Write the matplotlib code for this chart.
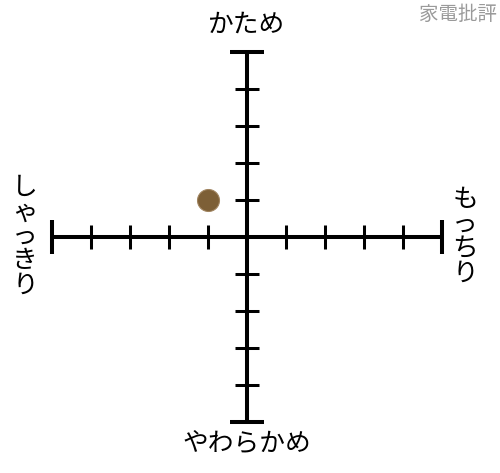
import matplotlib.pyplot as plt

plt.rcParams['font.family'] = ['Noto Sans CJK JP', 'DejaVu Sans']

# axis labels (top, bottom, left, right)
label_top = 'かため'
label_bottom = 'やわらかめ'
label_left = 'しゃっきり'
label_right = 'もっちり'
watermark = '家電批評'

# tick positions along each arm
ticks = [-5, -4, -3, -2, -1, 1, 2, 3, 4, 5]
arm = 5

# the rated item
point_x = [-1]
point_y = [1]

fig = plt.figure(figsize=(5, 4.73), dpi=100)
ax = fig.add_axes([0, 0, 1, 1])
# pixel scale: 39px per unit horizontally, 37px per unit vertically
ax.set_xlim(-247 / 39, 253 / 39)
ax.set_ylim(-236 / 37, 237 / 37)
ax.axis('off')

lw = 2.9
kx = 12 / 37   # half tick length in y units
ky = 12 / 39   # half tick length in x units
cx = 17 / 37
cy = 17 / 39

ax.plot([-arm, arm], [0, 0], color='black', lw=lw, solid_capstyle='butt')
ax.plot([0, 0], [-arm, arm], color='black', lw=lw, solid_capstyle='butt')
for t in ticks:
    if abs(t) == arm:
        ax.plot([t, t], [-cx, cx], color='black', lw=lw, solid_capstyle='butt')
        ax.plot([-cy, cy], [t, t], color='black', lw=lw, solid_capstyle='butt')
    else:
        ax.plot([t, t], [-kx, kx], color='black', lw=lw * 0.75, solid_capstyle='butt')
        ax.plot([-ky, ky], [t, t], color='black', lw=lw * 0.75, solid_capstyle='butt')

ax.scatter(point_x, point_y, s=250, color='#7d5f36', edgecolor='#a08460',
           linewidth=0.8, zorder=5)

fs = 18.5
ax.text(0, (237 - 25) / 37, label_top, ha='center', va='center', fontsize=fs)
ax.text(0, -(445 - 237) / 37, label_bottom, ha='center', va='center', fontsize=fs)
ax.text((25 - 247) / 39, 0, '\n'.join(label_left), ha='center', va='center',
        fontsize=fs, linespacing=0.92)
ax.text((465 - 247) / 39, 0, '\n'.join(label_right), ha='center', va='center',
        fontsize=fs, linespacing=0.92)
ax.text((458 - 247) / 39, (237 - 14) / 37, watermark, ha='center', va='center',
        fontsize=14, color='#9a9a9a')

plt.savefig('out.png', dpi=100)
